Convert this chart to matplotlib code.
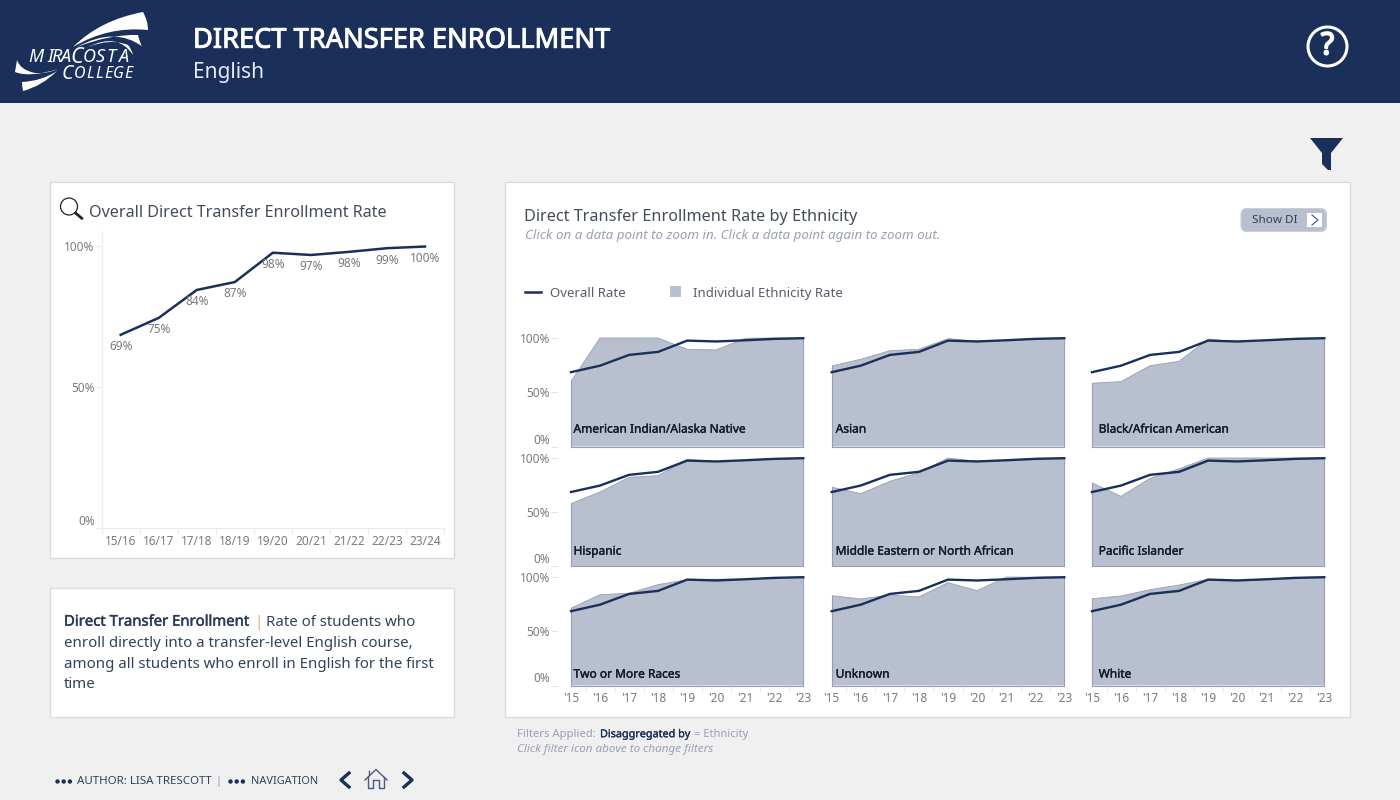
import matplotlib
matplotlib.use('Agg')
import matplotlib.pyplot as plt
import matplotlib.patheffects as pe
from matplotlib.patches import Rectangle, FancyBboxPatch, Circle, PathPatch, Polygon
from matplotlib.path import Path

plt.rcParams['font.family'] = ['Noto Sans', 'DejaVu Sans']

NAVY = '#1a2f5a'
AREA = '#b8bfce'
AREA_EDGE = '#979fb6'
GREY = '#7a7a7a'
DARK = '#33415c'
LIGHT = '#98a0b2'

# data
years_long = ['15/16', '16/17', '17/18', '18/19', '19/20', '20/21', '21/22', '22/23', '23/24']
years_short = ["'15", "'16", "'17", "'18", "'19", "'20", "'21", "'22", "'23"]
overall = [68.5, 74.5, 84.4, 87.2, 97.6, 96.8, 97.9, 99.2, 99.8]
overall_labels = ['69%', '75%', '84%', '87%', '98%', '97%', '98%', '99%', '100%']

indian = [60, 100, 100, 100, 89.6, 89, 99.7, 100, 100]
asian = [74.2, 80.4, 88.3, 89.6, 99.4, 97, 98, 99.4, 100]
black = [58.3, 59.8, 74.5, 78.5, 99, 96.3, 98, 99.7, 100]
hispanic = [57.7, 68.5, 82.1, 83.6, 98.8, 96.6, 97.8, 99.4, 100]
mena = [73, 67, 78.4, 86.4, 100, 97, 98, 99.7, 100]
pacific = [76.9, 64.5, 81.2, 90, 100, 100, 100, 100, 100]
two_more = [71.2, 83.7, 85, 93, 97.5, 98, 98, 99.4, 100]
unknown = [82.8, 79.8, 83.4, 81.6, 94.8, 87.4, 100, 99.7, 100]
white = [80, 82.5, 88.3, 92.6, 97.9, 96.6, 97.5, 99.4, 100]

names = ['American Indian/Alaska Native', 'Asian', 'Black/African American',
         'Hispanic', 'Middle Eastern or North African', 'Pacific Islander',
         'Two or More Races', 'Unknown', 'White']
rates = [indian, asian, black, hispanic, mena, pacific, two_more, unknown, white]

W, H = 1400, 800
fig = plt.figure(figsize=(14, 8), dpi=100, facecolor='#f0f0f0')


def px_axes(left, top, right, bottom, **kw):
    # axes placed by pixel box, y counted from the top of the picture
    return fig.add_axes([left / W, 1 - bottom / H, (right - left) / W, (bottom - top) / H], **kw)


bg = fig.add_axes([0, 0, 1, 1], zorder=0)
bg.set_xlim(0, W)
bg.set_ylim(H, 0)
bg.axis('off')

# top: same pixel coords, drawn over the charts for labels inside the areas
top = fig.add_axes([0, 0, 1, 1], zorder=5)
top.set_xlim(0, W)
top.set_ylim(H, 0)
top.axis('off')
top.patch.set_alpha(0)


def txt(x, y, s, ax=bg, heavy=0, **kw):
    # Noto sits a bit high with va=center; heavy fakes the semibold face
    t = ax.text(x, y + 3.2, s, va='center', **kw)
    if heavy:
        t.set_path_effects([pe.withStroke(linewidth=heavy, foreground=kw.get('color', 'black'))])
    return t


# header
bg.add_patch(Rectangle((0, 0), W, 103, color=NAVY, lw=0))
txt(193, 37.5, 'DIRECT TRANSFER ENROLLMENT', color='white', fontsize=19.6, heavy=0.7)
txt(193, 69.5, 'English', color='#e8ebf2', fontsize=15)


# logo
def blob(verts, color='white'):
    codes = [Path.MOVETO] + [Path.CURVE3] * (len(verts) - 1)
    bg.add_patch(PathPatch(Path(verts, codes), facecolor=color, edgecolor='none'))


blob([(73, 47), (100, 20), (143, 12), (148, 21), (148, 30), (108, 26), (73, 47)])
blob([(77, 47), (115, 26), (143, 47), (141, 47), (138, 35), (110, 34), (77, 47)])
blob([(88, 47), (118, 32), (133, 55), (132, 50), (128, 45), (110, 38), (88, 47)])
blob([(17, 60), (20, 70), (35, 73), (47, 74), (58, 69), (30, 78), (15, 72)])
blob([(23, 91), (22, 86), (22, 82), (42, 81), (57, 71), (42, 86), (23, 91)])
logo_text = [(28, 56, 'M', 13), (47, 56, 'I', 13), (51, 56, 'R', 13), (60, 56, 'A', 13),
             (70, 56, 'C', 15.5), (83, 56, 'O', 13), (96, 56, 'S', 13), (106, 56, 'T', 13), (118, 56, 'A', 13),
             (62, 72.5, 'C', 14), (74, 72.5, 'O', 11.5), (86, 72.5, 'L', 11.5), (95, 72.5, 'L', 11.5),
             (104, 72.5, 'E', 11.5), (113, 72.5, 'G', 11.5), (124, 72.5, 'E', 11.5)]
for lx, ly, ls, lf in logo_text:
    txt(lx, ly - 1.7, ls, color='white', fontsize=lf, style='italic')

# help icon
bg.add_patch(Circle((1327.5, 46.5), 19.5, fill=False, ec='white', lw=2.2))
txt(1327.5, 43, '?', color='white', fontsize=22, ha='center', heavy=1.3)

# filter icon
bg.add_patch(Polygon([(1310, 138), (1343, 138), (1331, 153), (1331, 170), (1328, 170),
                      (1322, 164), (1322, 153)], closed=True, color=NAVY, lw=0))

# panels
for box in [(50, 182, 404, 375.5), (50, 588, 404, 129), (505, 182, 844.5, 535)]:
    bg.add_patch(Rectangle((box[0], box[1]), box[2], box[3], fc='white', ec='#d6dae3', lw=0.9))

# magnifier
bg.add_patch(Circle((69, 206.5), 8.5, fc='white', ec='#222222', lw=0.9))
bg.plot([75.5, 82], [213, 218.5], color='#222222', lw=2, solid_capstyle='round')
txt(89, 209.5, 'Overall Direct Transfer Enrollment Rate', color='#444b5a', fontsize=11.6)

# left line chart
ax = px_axes(101.7, 231, 444, 528)
ax.set_facecolor('none')
xs = list(range(len(overall)))
ax.plot(xs, overall, color=NAVY, lw=1.8, solid_joinstyle='round')
for x, v, lab in zip(xs, overall, overall_labels):
    ax.annotate(lab, (x, v), xytext=(0, -8.6), textcoords='offset points', ha='center', va='center',
                fontsize=8.5, color=GREY)
ax.set_xlim(-0.5, 8.5)
ax.set_ylim(0, 105.3)
ax.set_yticks([0, 50, 100], ['0%', '50%', '100%'])
ax.set_xticks(xs, years_long)
ax.set_xticks([i - 0.5 for i in range(10)], minor=True)
ax.tick_params(axis='x', which='major', length=0, labelsize=8.5, labelcolor=GREY, pad=5)
ax.tick_params(axis='x', which='minor', length=4, color='#ececec', width=0.8)
ax.tick_params(axis='y', length=4, color='#ececec', width=0.8, labelsize=8.5, labelcolor=GREY, pad=1)
ax.get_yticklabels()[0].set_verticalalignment('bottom')
for s in ['top', 'right']:
    ax.spines[s].set_visible(False)
for s in ['left', 'bottom']:
    ax.spines[s].set_color('#ececec')
    ax.spines[s].set_linewidth(0.8)

# right panel headings
txt(524, 213.5, 'Direct Transfer Enrollment Rate by Ethnicity', color='#444b5a', fontsize=11.7)
txt(525, 232.5, 'Click on a data point to zoom in. Click a data point again to zoom out.',
    color=LIGHT, fontsize=9.6, style='italic')

# show DI button
bg.add_patch(FancyBboxPatch((1241, 208.5), 85.5, 23, boxstyle='round,pad=0,rounding_size=6', fc=AREA, ec='#c9cedb', lw=0.8))
txt(1252, 217, 'Show DI', color=DARK, fontsize=8.4)
bg.add_patch(Rectangle((1307, 213), 15, 14, fc='white', lw=0))
bg.plot([1312, 1318, 1312], [215, 220, 225], color='#5a6684', lw=0.9)

# legend
bg.plot([525, 541], [292, 292], color=NAVY, lw=1.8)
txt(550, 290, 'Overall Rate', color='#555c6b', fontsize=9.5)
bg.add_patch(Rectangle((670, 286), 11, 11, color=AREA, lw=0))
txt(693, 290, 'Individual Ethnicity Rate', color='#555c6b', fontsize=9.5)

# small multiples
col_x = [(571, 803.3), (831.7, 1064.3), (1092, 1324.3)]
row_y = [(338, 446.5), (458, 566), (577, 685.5)]
name_x = [573.5, 835.7, 1098.7]
name_y = [426, 548, 671]

for i in range(9):
    r, c = i // 3, i % 3
    x0, x1 = col_x[c]
    y100, y0 = row_y[r]
    a = px_axes(x0, y100 - 4, x1, y0)
    a.set_facecolor('none')
    a.set_xlim(0, 8)
    a.set_ylim(0, 100 * (y0 - y100 + 4) / (y0 - y100))
    a.fill_between(xs, 0, rates[i], facecolor=AREA, edgecolor='none')
    a.plot(xs, rates[i], color=AREA_EDGE, lw=0.6)
    a.plot([0, 0], [0, rates[i][0]], color=AREA_EDGE, lw=0.8, clip_on=False)
    a.plot([8, 8], [0, rates[i][8]], color=AREA_EDGE, lw=0.8, clip_on=False)
    a.plot([0, 8], [0, 0], color=AREA_EDGE, lw=0.8, clip_on=False)
    a.plot(xs, overall, color=NAVY, lw=1.7, clip_on=False, zorder=4, solid_joinstyle='round')
    for s in a.spines.values():
        s.set_visible(False)
    if c == 0:
        a.set_yticks([0, 50, 100], ['0%', '50%', '100%'])
        a.tick_params(axis='y', length=0, labelsize=8.5, labelcolor=GREY, pad=15)
        a.get_yticklabels()[0].set_verticalalignment('bottom')
        # short ticks stand clear of the area
        for val in [0, 50, 100]:
            a.plot([-19 / 29, -14 / 29], [val, val], color='#e6e6e6', lw=0.8, clip_on=False)
    else:
        a.set_yticks([])
    if r == 2:
        a.set_xticks(xs, years_short)
        a.set_xticks([j + 0.5 for j in range(8)], minor=True)
        a.tick_params(axis='x', which='major', length=0, labelsize=8.5, labelcolor=GREY, pad=5)
        a.tick_params(axis='x', which='minor', length=4, color='#ececec', width=0.8)
    else:
        a.set_xticks([])
    txt(name_x[c], name_y[r], names[i], ax=top, color='#141a2b', fontsize=8.6, heavy=0.25)

# definition box
txt(64, 619, 'Direct Transfer Enrollment', color='#2b3a5c', fontsize=10.7, heavy=0.35)
txt(259, 619, '|', color='#f0a860', fontsize=10.8, ha='center')
txt(266, 619, 'Rate of students who', color=DARK, fontsize=10.8)
txt(64, 640, 'enroll directly into a transfer-level English course,', color=DARK, fontsize=10.8)
txt(64, 661, 'among all students who enroll in English for the first', color=DARK, fontsize=10.8)
txt(64, 681.5, 'time', color=DARK, fontsize=10.8)

# filter notes
txt(517, 731.5, 'Filters Applied:', color=LIGHT, fontsize=8.1)
txt(600, 731.5, 'Disaggregated by', color=NAVY, fontsize=7.8, heavy=0.2)
txt(694, 731.5, '= Ethnicity', color=LIGHT, fontsize=8)
txt(517, 746, 'Click filter icon above to change filters', color=LIGHT, fontsize=8.4, style='italic')

# footer
for start in (55, 228):
    for k in range(3):
        bg.add_patch(Circle((start + 2.5 + k * 6.2, 781.5), 2.2, color=NAVY, lw=0))
txt(77, 778.5, 'AUTHOR: LISA TRESCOTT', color=DARK, fontsize=8.3)
txt(218, 778.5, '|', color='#7f8cab', fontsize=8, ha='center')
txt(250.5, 778.5, 'NAVIGATION', color=DARK, fontsize=7.9)
bg.plot([349, 341, 349], [773, 780, 787], color=NAVY, lw=2.4)
bg.plot([404, 412, 404], [773, 780, 787], color=NAVY, lw=2.4)
# home icon
bg.plot([365, 376, 387], [780, 769.5, 780], color='#4a5a80', lw=1)
bg.plot([368, 368, 373, 373, 379, 379, 384, 384], [777, 788, 788, 780, 780, 788, 788, 777], color='#4a5a80', lw=1)
bg.plot([369, 369], [775, 771], color='#4a5a80', lw=1)

fig.savefig('out.png', dpi=100, facecolor=fig.get_facecolor())
